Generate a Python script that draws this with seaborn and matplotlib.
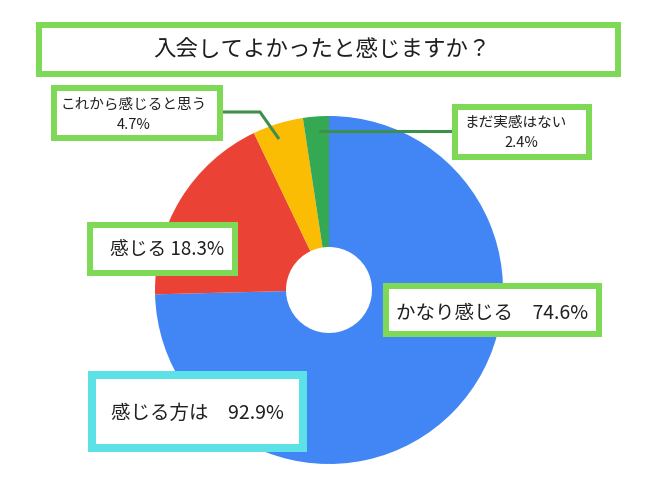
import matplotlib
matplotlib.use("Agg")
import matplotlib.pyplot as plt
from matplotlib.patches import Rectangle
import seaborn as sns

# ---- data ----
title = "入会してよかったと感じますか？"
categories = ["かなり感じる", "感じる", "これから感じると思う", "まだ実感はない"]
values = [74.6, 18.3, 4.7, 2.4]
colors = ["#4285F4", "#EA4335", "#FBBC04", "#34A853"]
summary_label = "感じる方は"
summary_value = 92.9

sns.set_theme(style="white")
plt.rcParams["font.family"] = ["Noto Sans CJK JP", "DejaVu Sans"]

W, H = 650, 490
fig = plt.figure(figsize=(6.5, 4.9), dpi=100)
ax = fig.add_axes([0, 0, 1, 1])
ax.set_xlim(0, W)
ax.set_ylim(0, H)
ax.set_aspect("equal")
ax.axis("off")


def Y(y):
    return H - y


# donut
cx, cy, R, r_in = 329, 290, 174, 43
ax.pie(values, colors=colors, startangle=90, counterclock=False,
       center=(cx, Y(cy)), radius=R, frame=True,
       wedgeprops=dict(width=R - r_in, linewidth=0))
ax.set_xlim(0, W)
ax.set_ylim(0, H)
ax.axis("off")

GREEN = "#7ED957"
CYAN = "#5CE1E6"
LEADER = "#3E8E4C"
TXT = "#1f1f1f"


def box(x0, y0, x1, y1, t, color):
    ax.add_patch(Rectangle((x0 + t / 2, Y(y1) + t / 2), (x1 - x0) - t, (y1 - y0) - t,
                           facecolor="white", edgecolor=color, linewidth=t * 0.72,
                           zorder=5))


def txt(x, y, s, size, ha="center"):
    ax.text(x, Y(y), s, fontsize=size, ha=ha, va="center", color=TXT, zorder=6)


# title
box(36, 22, 621, 77, 6, GREEN)
txt(322, 50, title, 16.2)

# leader lines
ax.plot([222, 260, 279], [Y(112), Y(112), Y(139)], color=LEADER, lw=2.2, zorder=4,
        solid_capstyle="butt")
ax.plot([319, 453], [Y(131), Y(131)], color=LEADER, lw=2.2, zorder=4,
        solid_capstyle="butt")

# これから感じると思う
box(51, 85, 223, 141, 6, GREEN)
txt(134, 105, categories[2], 10.5)
txt(134, 125, f"{values[2]}%", 10.5)

# まだ実感はない
box(452, 104, 592, 160, 6, GREEN)
txt(516, 123, categories[3], 10.5)
txt(521, 143, f"{values[3]}%", 10.5)

# 感じる
box(87, 222, 238, 276, 6, GREEN)
txt(167, 250, f"{categories[1]} {values[1]}%", 13.5)

# かなり感じる
box(383, 283, 602, 337, 6, GREEN)
txt(492, 313, f"{categories[0]}　{values[0]}%", 14)

# summary
box(88, 371, 307, 452, 8, CYAN)
txt(197, 413, f"{summary_label}　{summary_value}%", 14)

fig.savefig("out.png", dpi=100, facecolor="white")
